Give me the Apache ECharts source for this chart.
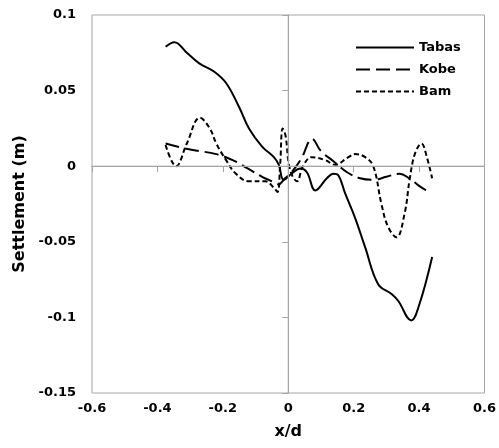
<!DOCTYPE html>
<html>
<head>
<meta charset="utf-8">
<script src="https://cdn.jsdelivr.net/npm/echarts@6/dist/echarts.min.js"></script>
<style>
  html, body { margin: 0; padding: 0; background: #fff; }
  #chart { width: 499px; height: 448px; }
</style>
</head>
<body>
<div id="chart"></div>
<script>
// Settlement profiles along x/d for three ground motions
const tabasX = [-0.375, -0.348, -0.31, -0.272, -0.226, -0.19, -0.15, -0.12, -0.08, -0.044, -0.029, -0.014, 0.01, 0.037, 0.057, 0.083, 0.118, 0.138, 0.153, 0.174, 0.204, 0.235, 0.275, 0.316, 0.336, 0.376, 0.4, 0.44];
const tabasY = [0.079, 0.082, 0.075, 0.068, 0.0625, 0.055, 0.039, 0.025, 0.013, 0.006, 0.001, -0.009, -0.005, -0.0015, -0.004, -0.016, -0.008, -0.005, -0.006, -0.018, -0.034, -0.0535, -0.078, -0.0845, -0.089, -0.102, -0.092, -0.06];

const kobeX = [-0.375, -0.3, -0.22, -0.17, -0.12, -0.08, -0.05, -0.03, -0.01, 0.01, 0.04, 0.073, 0.1, 0.14, 0.18, 0.22, 0.26, 0.3, 0.34, 0.37, 0.4, 0.43];
const kobeY = [0.015, 0.011, 0.008, 0.004, -0.002, -0.007, -0.01, -0.012, -0.008, -0.004, 0.005, 0.018, 0.01, 0.003, -0.004, -0.008, -0.009, -0.007, -0.005, -0.008, -0.013, -0.017];

const bamX = [-0.375, -0.343, -0.31, -0.27, -0.24, -0.22, -0.19, -0.16, -0.12, -0.07, -0.045, -0.033, -0.025, -0.017, -0.008, 0.005, 0.027, 0.045, 0.072, 0.113, 0.143, 0.184, 0.204, 0.235, 0.26, 0.285, 0.305, 0.331, 0.356, 0.371, 0.387, 0.407, 0.425, 0.44];
const bamY = [0.014, 0.0, 0.015, 0.032, 0.025, 0.015, 0.004, -0.005, -0.01, -0.01, -0.014, -0.017, 0.0, 0.025, 0.02, -0.002, -0.01, 0.0, 0.006, 0.004, 0.001, 0.006, 0.008, 0.006, 0.0, -0.025, -0.04, -0.047, -0.031, -0.009, 0.008, 0.015, 0.005, -0.008];

const seriesNames = ['Tabas', 'Kobe', 'Bam'];

// Axis ranges and tick steps
const xMin = -0.6, xMax = 0.6, xStep = 0.2;
const yMin = -0.15, yMax = 0.1, yStep = 0.05;

const pair = (xs, ys) => xs.map((x, i) => [x, ys[i]]);

const FONT = 'DejaVu Sans';
const GRAY = '#a6a6a6';

const chart = echarts.init(document.getElementById('chart'));

const fmt = v => String(Math.round(v * 100) / 100);

const lineSeries = (name, data, type) => ({
  name,
  type: 'line',
  data,
  smooth: 0.4,
  symbol: 'none',
  showSymbol: false,
  lineStyle: { color: '#000', width: 2, type },
  itemStyle: { color: '#000' },
  z: 3
});

// Axis lines crossing at the origin, spanning the full plot extent
const crossLine = data => ({
  type: 'line',
  data,
  symbol: 'none',
  silent: true,
  lineStyle: { color: GRAY, width: 1, type: 'solid' },
  emphasis: { disabled: true },
  z: 10
});

// Second pair of axes sits on the origin and carries the tick marks
const zeroAxis = (min, max, interval, position) => ({
  type: 'value', position, min, max, interval, z: 10,
  axisLine: { show: true, onZero: true, onZeroAxisIndex: 0, lineStyle: { color: GRAY, width: 1 } },
  axisTick: { show: true, length: 6, lineStyle: { color: GRAY, width: 1 } },
  axisLabel: { show: false },
  splitLine: { show: false }
});

const labelStyle = { fontFamily: FONT, fontWeight: 'bold', fontSize: 13, color: '#000', formatter: fmt };
const nameStyle = { fontFamily: FONT, fontWeight: 'bold', fontSize: 16, color: '#000' };

chart.setOption({
  animation: false,
  grid: { left: 92, right: 12, top: 15, bottom: 55, show: true, borderColor: GRAY },
  legend: {
    orient: 'vertical',
    left: 350, top: 36,
    itemWidth: 58, itemHeight: 14, itemGap: 9,
    data: seriesNames,
    itemStyle: { opacity: 0, borderWidth: 0 },
    textStyle: { fontFamily: FONT, fontWeight: 'bold', fontSize: 13, color: '#000' }
  },
  xAxis: [
    {
      type: 'value', min: xMin, max: xMax, interval: xStep,
      name: 'x/d', nameLocation: 'middle', nameGap: 31, nameTextStyle: nameStyle,
      axisLine: { show: false, onZero: false }, axisTick: { show: false }, splitLine: { show: false },
      axisLabel: Object.assign({ margin: 9 }, labelStyle)
    },
    zeroAxis(xMin, xMax, xStep, 'bottom')
  ],
  yAxis: [
    {
      type: 'value', min: yMin, max: yMax, interval: yStep,
      name: 'Settlement (m)', nameLocation: 'middle', nameGap: 62, nameTextStyle: nameStyle,
      axisLine: { show: false, onZero: false }, axisTick: { show: false }, splitLine: { show: false },
      axisLabel: Object.assign({ margin: 16 }, labelStyle)
    },
    zeroAxis(yMin, yMax, yStep, 'left')
  ],
  series: [
    crossLine([[0, yMin], [0, yMax]]),
    crossLine([[xMin, 0], [xMax, 0]]),
    lineSeries(seriesNames[0], pair(tabasX, tabasY), 'solid'),
    lineSeries(seriesNames[1], pair(kobeX, kobeY), [14, 6]),
    lineSeries(seriesNames[2], pair(bamX, bamY), [5, 3])
  ]
});
</script>
</body>
</html>
